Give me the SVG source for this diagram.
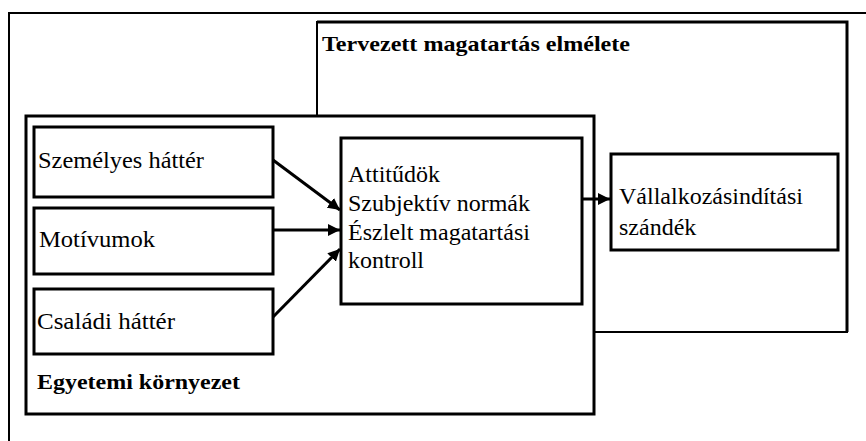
<svg xmlns="http://www.w3.org/2000/svg" width="866" height="441" viewBox="0 0 866 441">
<style>
.box{fill:#fff;stroke:#000;stroke-width:3}
.frame{fill:#fff;stroke:#000;stroke-width:2}
.t{font-family:"Liberation Serif","Times New Roman",serif;font-size:24px;fill:#000}
.b{font-family:"Liberation Serif","Times New Roman",serif;font-size:22px;font-weight:bold;fill:#000}
.c{fill:none;stroke:#000;stroke-width:3}
</style>
<defs>
<marker id="ah" viewBox="0 0 10 10" refX="10" refY="5" markerWidth="4" markerHeight="4" orient="auto" markerUnits="strokeWidth">
<path d="M0,0 L10,5 L0,10 z" fill="#000"/>
</marker>
</defs>
<rect width="866" height="441" fill="#fff"/>
<g id="outer">
<rect x="9" y="13" width="900" height="500" fill="none" stroke="#000" stroke-width="2"/>
</g>
<g id="tervezett">
<rect class="frame" x="317" y="22" width="530" height="310"/>
<path d="M317,22 H847 V332" fill="none" stroke="#000" stroke-width="3"/>
<text class="b" x="322" y="51" textLength="308" lengthAdjust="spacingAndGlyphs">Tervezett magatartás elmélete</text>
</g>
<g id="egyetemi">
<rect class="box" x="26" y="116" width="568" height="298"/>
<text class="b" x="37" y="389" textLength="203" lengthAdjust="spacingAndGlyphs">Egyetemi környezet</text>
</g>
<g id="szemelyes">
<rect class="box" x="34" y="127" width="239" height="70"/>
<text class="t" x="38" y="168" textLength="166" lengthAdjust="spacingAndGlyphs">Személyes háttér</text>
</g>
<g id="motivumok">
<rect class="box" x="34" y="208" width="239" height="66"/>
<text class="t" x="39" y="247" textLength="116" lengthAdjust="spacingAndGlyphs">Motívumok</text>
</g>
<g id="csaladi">
<rect class="box" x="34" y="289" width="239" height="65"/>
<text class="t" x="37" y="329" textLength="138" lengthAdjust="spacingAndGlyphs">Családi háttér</text>
</g>
<g id="kozponti">
<rect class="box" x="341" y="138" width="241" height="166"/>
<text class="t" x="348" y="182">Attitűdök</text>
<text class="t" x="348" y="211">Szubjektív normák</text>
<text class="t" x="348" y="240">Észlelt magatartási</text>
<text class="t" x="348" y="268">kontroll</text>
</g>
<g id="vallalkozas">
<rect class="box" x="611" y="154" width="227" height="96"/>
<text class="t" x="619" y="204">Vállalkozásindítási</text>
<text class="t" x="619" y="235">szándék</text>
</g>
<g id="connectors">
<line class="c" x1="273" y1="160" x2="340" y2="210" marker-end="url(#ah)"/>
<line class="c" x1="273" y1="230" x2="340" y2="230" marker-end="url(#ah)"/>
<line class="c" x1="273" y1="317" x2="340" y2="249" marker-end="url(#ah)"/>
<line class="c" x1="582" y1="199" x2="610" y2="199" marker-end="url(#ah)"/>
</g>
</svg>
